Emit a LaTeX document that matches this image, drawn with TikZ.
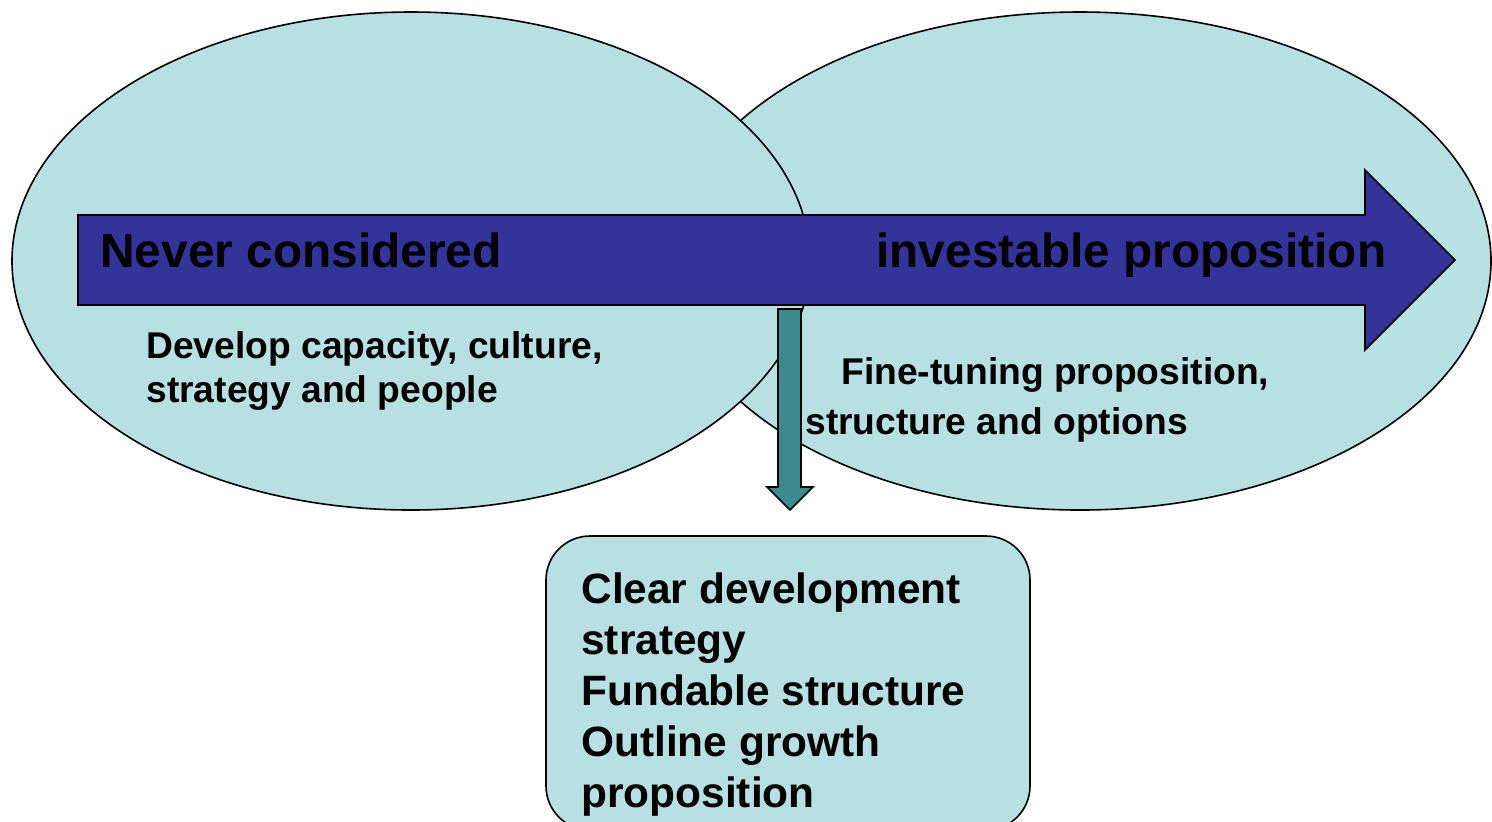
\documentclass[tikz,border=0pt]{standalone}
\usepackage{fontspec}
\setmainfont{Liberation Sans}
\definecolor{lightcyan}{HTML}{B8E0E3}
\definecolor{arrowblue}{HTML}{333399}
\definecolor{tealarrow}{HTML}{3B8B8E}
\tikzset{
  bubble/.style={draw=black, line width=0.8pt, fill=lightcyan},
  bigarrow/.style={draw=black, line width=0.8pt, fill=arrowblue},
  downarrow/.style={draw=black, line width=0.8pt, fill=tealarrow},
  bigtext/.style={anchor=base west, inner sep=0pt, font=\fontsize{23.9}{28}\selectfont\bfseries},
  midtext/.style={anchor=base west, inner sep=0pt, font=\fontsize{18.6}{22}\selectfont\bfseries},
  boxtext/.style={anchor=base west, inner sep=0pt, align=left, font=\fontsize{21.2}{25.5}\selectfont\bfseries}
}
\begin{document}
\begin{tikzpicture}[x=0.5pt,y=-0.5pt]
\useasboundingbox (0,0) rectangle (1492,821);
\clip (0,0) rectangle (1492,821);
% ellipses
\draw[bubble] (1080,261) ellipse [x radius=411, y radius=249];
\draw[bubble] (411,261) ellipse [x radius=399, y radius=249];
% big arrow
\draw[bigarrow] (78,215) -- (1365,215) -- (1365,170) -- (1455,260) -- (1365,350) -- (1365,305) -- (78,305) -- cycle;
% down arrow
\draw[downarrow] (778,309) -- (801,309) -- (801,487) -- (813,487) -- (790,510) -- (767,487) -- (778,487) -- cycle;
% result box
\draw[bubble, rounded corners=22pt] (546,536) rectangle (1030,830);
% texts
\node[bigtext] (never) at (100,267) {Never considered};
\node[bigtext] (invest) at (876,267) {investable proposition};
\node[midtext] (dev1) at (146,358) {Develop capacity, culture,};
\node[midtext] (dev2) at (146,402) {strategy and people};
\node[midtext] (fine1) at (841,384) {Fine-tuning proposition,};
\node[midtext] (fine2) at (805,434) {structure and options};
\node[boxtext] (res) at (581,807) {Clear development\\strategy\\Fundable structure\\Outline growth\\proposition};
\end{tikzpicture}
\end{document}
